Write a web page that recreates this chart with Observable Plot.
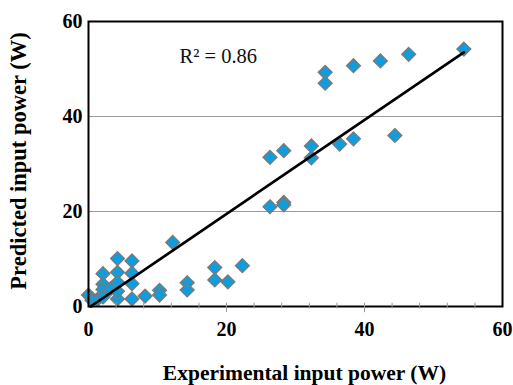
<!DOCTYPE html>
<html>
<head>
<meta charset="utf-8">
<script src="https://cdn.jsdelivr.net/npm/d3@7"></script>
<script src="https://cdn.jsdelivr.net/npm/@observablehq/plot@0.6"></script>
<style>
  html, body { margin: 0; padding: 0; background: #fff; }
  #chart { position: relative; width: 513px; height: 385px; }
</style>
</head>
<body>
<div id="chart"></div>
<script>
// Experimental (x) vs predicted (y) input power, W
const experimental = [
  54.4, 46.4, 42.3, 38.4, 34.3, 34.3, 44.4, 38.4, 36.4, 32.3, 32.3, 28.3, 26.3,
  26.3, 28.3, 28.3, 12.2, 22.3, 18.3, 18.3, 20.2, 14.3, 14.3, 10.3, 10.3, 8.2,
  6.3, 4.2, 4.2, 6.3, 6.3, 4.2, 2.1, 2.1, 2.1, 3.2, 4.2, 0.0, 0.5, 1.3, 2.1, 4.2, 6.3
];
const predicted = [
  54.2, 53.1, 51.7, 50.7, 49.3, 47.0, 36.0, 35.3, 34.2, 33.8, 31.3, 32.8, 31.4,
  21.0, 21.9, 21.4, 13.5, 8.6, 8.2, 5.6, 5.2, 5.0, 3.5, 3.4, 2.4, 2.2,
  1.6, 1.6, 10.1, 9.6, 7.0, 7.2, 6.9, 4.7, 3.6, 3.7, 5.1, 2.4, 1.3, 1.5, 2.0, 3.2, 4.8
];
const fitX = [0.3, 54.4];
const fitY = [0, 53.5];
const majorTicks = [0, 20, 40, 60];
const minorTicks = [4, 8, 12, 16, 24, 28, 32, 36, 44, 48, 52, 56];
const r2Label = "R² = 0.86";

const points = experimental.map((x, i) => ({x, y: predicted[i]}));
const fit = fitX.map((x, i) => ({x, y: fitY[i]}));

const serif = "'Liberation Serif', 'Times New Roman', serif";

const chart = Plot.plot({
  width: 513,
  height: 385,
  marginLeft: 88,
  marginRight: 11,
  marginTop: 21,
  marginBottom: 79,
  style: {fontFamily: serif, background: "#fff", overflow: "visible"},
  x: {domain: [0, 60]},
  y: {domain: [0, 60]},
  marks: [
    Plot.ruleY([20, 40], {stroke: "#999", strokeWidth: 1}),
    Plot.dot(points, {
      x: "x", y: "y", symbol: "diamond2", r: 6.2,
      fill: "#0d9ee0", stroke: "#7a7a7a", strokeWidth: 1.4
    }),
    Plot.line(fit, {x: "x", y: "y", stroke: "#000", strokeWidth: 2.7}),
    Plot.frame({stroke: "#000", strokeWidth: 2}),
    Plot.ruleX(minorTicks, {x: d => d, y1: -0.5, y2: 0.7, stroke: "#999", strokeWidth: 1}),
    Plot.ruleX([20, 40], {x: d => d, y1: -1.3, y2: 0.7, stroke: "#999", strokeWidth: 1}),
    Plot.axisX({
      ticks: majorTicks, tickSize: 0, tickPadding: 15,
      fontSize: 20, fontWeight: "bold", fill: "#000", label: null
    }),
    Plot.axisY({
      ticks: majorTicks, tickSize: 0, tickPadding: 6,
      fontSize: 20, fontWeight: "bold", fill: "#000", label: null
    }),
    Plot.text([r2Label], {
      frameAnchor: "top-left", dx: 91, dy: 27, text: d => d,
      fontSize: 20.5, fill: "#111", textAnchor: "start", fontFamily: serif
    }),
    Plot.text(["Experimental input power (W)"], {
      frameAnchor: "bottom", dx: 9, dy: 73, text: d => d,
      fontSize: 21.5, fontWeight: "bold", fill: "#000", fontFamily: serif
    }),
    Plot.text(["Predicted input power (W)"], {
      frameAnchor: "left", dx: -70, dy: -3, rotate: -90, textAnchor: "middle", text: d => d,
      fontSize: 22.5, fontWeight: "bold", fill: "#000", fontFamily: serif
    })
  ]
});

document.getElementById("chart").appendChild(chart);
</script>
</body>
</html>
